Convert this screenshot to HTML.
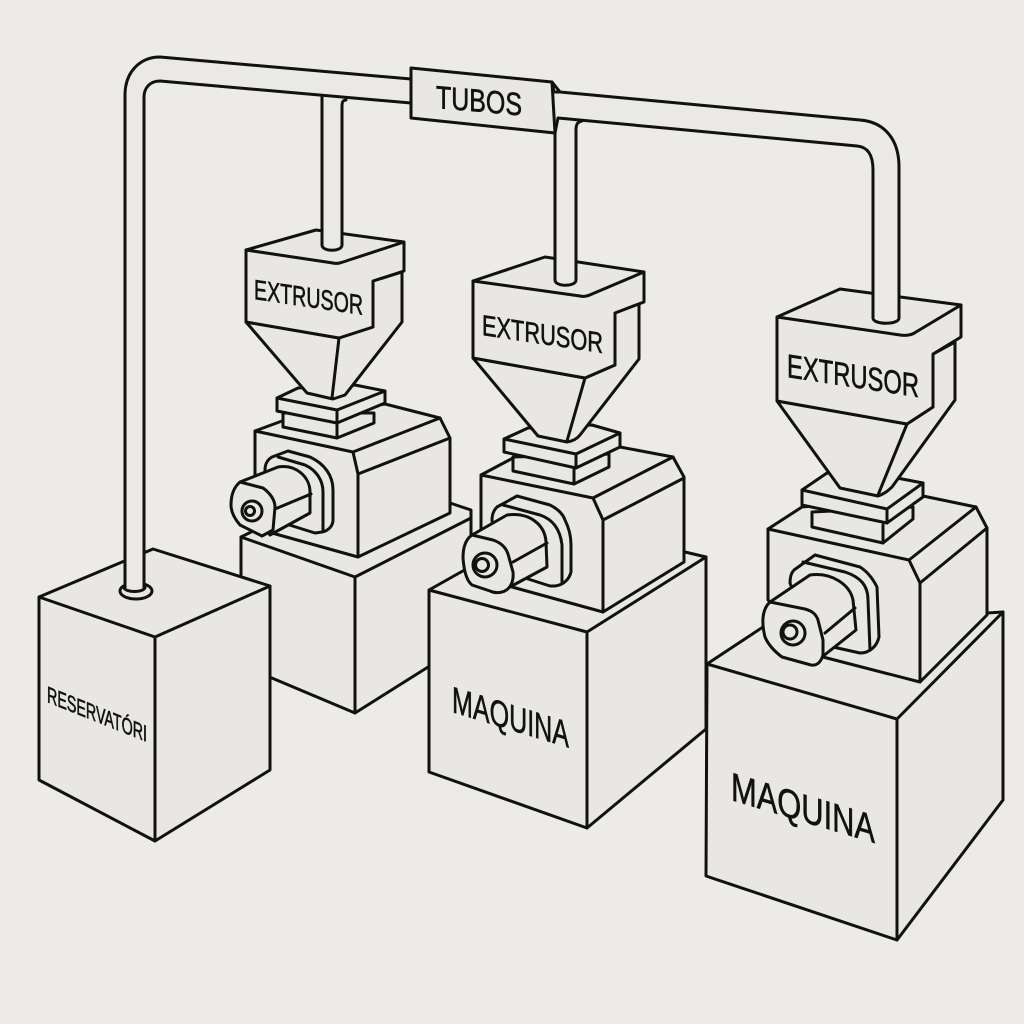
<!DOCTYPE html>
<html lang="pt">
<head>
<meta charset="utf-8">
<title>Extrusores</title>
<style>
html,body{margin:0;padding:0;background:#edebe7;}
svg{display:block;}
.s{fill:#e9e7e3;stroke:#111;stroke-width:3;stroke-linejoin:round;stroke-linecap:round;}
.l{fill:none;stroke:#111;stroke-width:3;stroke-linejoin:round;stroke-linecap:round;}
.p{fill:#ebe9e5;stroke:none;}
text{font-family:"Liberation Sans",sans-serif;fill:#111;stroke:#111;stroke-width:.6;}
</style>
</head>
<body>
<svg width="1024" height="1024" viewBox="0 0 1024 1024" xmlns="http://www.w3.org/2000/svg">
<rect width="1024" height="1024" fill="#edebe7"/>

<g>
<path class="s" d="M241 537L296 510L450 503L471 510V640L355 713L241 665Z"/>
<path class="l" d="M241 537L355 577V713M355 577L471 518"/>
</g>

<g>
<g>
<path class="s" d="M255 431L282 421L385 404L440 418L450 438V513L358 557L272 533L255 520Z"/>
<path class="l" d="M255 431L353 452L358 474V557M353 452L440 418M358 474L450 438"/>
</g>
<g>
<path class="s" d="M265 470C265 464 267 460 272 457L288 451L310 457C325 464 333 476 333 490V520C333 526 328 531 322 532L315 533L283 523L265 490Z"/>
<path class="l" d="M278 457L305 465C316 470 323 480 323 492V530"/>
<path class="s" d="M240 482L278 467C296 464 310 477 310 492V513L270 535L245 500Z"/>
<path class="l" d="M275 509L311 494"/>
<path class="s" d="M240 482L263 488C270 493 275 500 275 507L273 530L262 536L240 525C234 518 231 512 231 505C231 495 234 487 240 482Z"/>
<circle class="l" cx="252" cy="511" r="10"/>
<circle class="l" cx="250" cy="511" r="4.5"/>
</g>
<g>
<path class="s" d="M283 413V427L337 438L374 423V413Z"/>
<path class="l" d="M337 423V438"/>
<path class="s" d="M277 398L298 388L355 385L385 391V403L337 423L277 411Z"/>
<path class="l" d="M277 398L337 410L385 391M337 410V423"/>
</g>
<g>
<path class="s" d="M246 322L307 393L333 399L345 395L402 322V272L373 281V327L339 338Z"/>
<path class="l" d="M339 338L332 398"/>
<path class="s" d="M246 250L316 230L404 242V271L373 281V327L339 338L246 322Z"/>
<path class="l" d="M246 250L333 263C337 264 340 263 343 262L404 242"/>
<text x="0" y="0" font-size="28" transform="translate(254 299) skewY(8.3)" textLength="109" lengthAdjust="spacingAndGlyphs">EXTRUSOR</text>
</g>
</g>

<g>
<path class="s" d="M429 590L500 550L685 552L706 557V729L587 828L429 772Z"/>
<path class="l" d="M429 590L587 632V828M587 632L706 557"/>
<text x="0" y="0" font-size="37" transform="translate(452 712) skewY(17)" textLength="117" lengthAdjust="spacingAndGlyphs">MAQUINA</text>
</g>

<g>
<g>
<path class="s" d="M481 475L513 458L620 447L673 457L684 477V562L603 612L512 587L481 560Z"/>
<path class="l" d="M481 475L593 498L603 520V612M593 498L673 457M603 520L684 478"/>
</g>
<g>
<path class="s" d="M492 520C492 514 494 510 497 507L517 496L550 505C558 509 563 514 565 520C569 528 571 536 571 545V572C569 580 563 585 555 586L550 586L525 578L495 545Z"/>
<path class="l" d="M503 505L540 515C552 519 560 528 562 545V583"/>
<path class="s" d="M472 535L507 515C530 512 545 525 546 542L547 567L508 588L480 560Z"/>
<path class="l" d="M513 562L547 543"/>
<path class="s" d="M472 535L493 540C502 543 506 548 508 554L513 572C514 582 510 590 502 592C498 593 494 593 490 591L472 585C466 580 464 570 463 558C463 547 466 539 472 535Z"/>
<circle class="l" cx="485" cy="565" r="12"/>
<circle class="l" cx="482" cy="565" r="6.5"/>
</g>
<g>
<path class="s" d="M513 457V471L574 484L609 467V454Z"/>
<path class="l" d="M574 470V484"/>
<path class="s" d="M504 439L528 428L592 425L620 433V447L576 468L504 452Z"/>
<path class="l" d="M504 439L576 454L620 433M576 454V468"/>
</g>
<g>
<path class="s" d="M473 358L538 436L567 442C573 441 577 439 580 435L639 359V303L615 313V365L585 378Z"/>
<path class="l" d="M585 378L567 441"/>
<path class="s" d="M473 281L545 257L644 272V302L615 313V365L585 378L473 358Z"/>
<path class="l" d="M473 281L580 296C584 297 588 296 592 294L644 272"/>
<text x="0" y="0" font-size="29" transform="translate(482 335) skewY(8.5)" textLength="121" lengthAdjust="spacingAndGlyphs">EXTRUSOR</text>
</g>
</g>

<g>
<path class="s" d="M707 664L763 627L987 613L1003 612V800L897 940L706 876Z"/>
<path class="l" d="M707 664L897 719V940M897 719L1003 612"/>
<text x="0" y="0" font-size="40" transform="translate(731 800) skewY(16.7)" textLength="144" lengthAdjust="spacingAndGlyphs">MAQUINA</text>
</g>

<g>
<g>
<path class="s" d="M768 529L802 507L923 496L976 507L987 528V615L920 682L823 657L768 600Z"/>
<path class="l" d="M768 529L909 560L920 583V682M909 560L976 507M920 583L987 528"/>
</g>
<g>
<path class="s" d="M790 583C790 577 791 573 794 570L815 555L860 567C868 572 873 579 877 587L879 637C877 646 870 653 860 653L833 647L800 610Z"/>
<path class="l" d="M803 562L845 572C860 577 868 585 868 600L870 650"/>
<path class="s" d="M770 602L810 575C832 572 850 585 853 600L856 630L822 657L790 625Z"/>
<path class="l" d="M825 633L855 608"/>
<path class="s" d="M770 602L805 609C812 611 816 614 818 620L823 640V655C821 662 817 666 811 665L782 657C774 651 768 644 765 637C762 625 761 610 770 602Z"/>
<circle class="l" cx="793" cy="633" r="12"/>
<circle class="l" cx="790" cy="632" r="7"/>
</g>
<g>
<path class="s" d="M812 512V527L883 543L913 519V507Z"/>
<path class="l" d="M883 525V543"/>
<path class="s" d="M802 490L827 473L897 478L923 483V497L887 523L802 505Z"/>
<path class="l" d="M802 490L887 509L923 483M887 509V523"/>
</g>
<g>
<path class="s" d="M777 401L840 488L878 496C884 494 888 491 892 487L955 400V342L933 354V407L907 424Z"/>
<path class="l" d="M907 424L878 495"/>
<path class="s" d="M777 317L840 289L961 305V337L933 354V407L907 424L777 401Z"/>
<path class="l" d="M777 317L900 335C907 336 912 335 916 332L961 305"/>
<text x="0" y="0" font-size="33" transform="translate(787 377) skewY(8.7)" textLength="132" lengthAdjust="spacingAndGlyphs">EXTRUSOR</text>
</g>
</g>

<g>
<path class="s" d="M39 597L153 549L270 586V770L155 841L39 780Z"/>
<path class="l" d="M39 597L155 637V841M155 637L270 586"/>
<text x="0" y="0" font-size="23" transform="translate(47 702) skewY(21.8)" textLength="100" lengthAdjust="spacingAndGlyphs">RESERVATÓRI</text>
</g>

<g>
<ellipse class="s" cx="136" cy="591" rx="16" ry="8"/>
<path class="p" d="M125 588V95C125 72 140 57 160 57L411 79V104L345 100L342 245C342 252 322 252 322 245V97L160 81C150 81 144 88 144 97V588C144 594 125 594 125 588Z"/>
<path class="l" d="M125 588V95C125 72 140 57 160 57L411 79"/>
<path class="l" d="M145 587C145 593 124 593 124 587M144 588V97C144 88 150 81 160 81L411 103"/>
<path class="l" d="M322 97V245C322 252 342 252 342 245V106C342 102 343 100 346 100"/>
<path class="p" d="M553 92L860 120C885 122 899 140 899 167V318C899 325 873 325 873 318V170C873 155 868 147 857 146L578 122L576 282C576 287 555 287 555 282V117Z"/>
<path class="l" d="M560 92L860 120C885 122 899 140 899 167V318C899 325 873 325 873 318V170C873 155 868 147 857 146L558 118L555 133"/>
<path class="l" d="M555 133V280C555 287 576 287 576 280V130C576 125 577 122 582 121"/>
<path class="s" d="M552 82L560 92L554 92Z"/>
<path class="s" d="M411 68L552 82L555 133L411 118Z"/>
<text x="0" y="0" font-size="32" transform="translate(436 108) skewY(5)" textLength="86" lengthAdjust="spacingAndGlyphs">TUBOS</text>
</g>
</svg>
</body>
</html>
